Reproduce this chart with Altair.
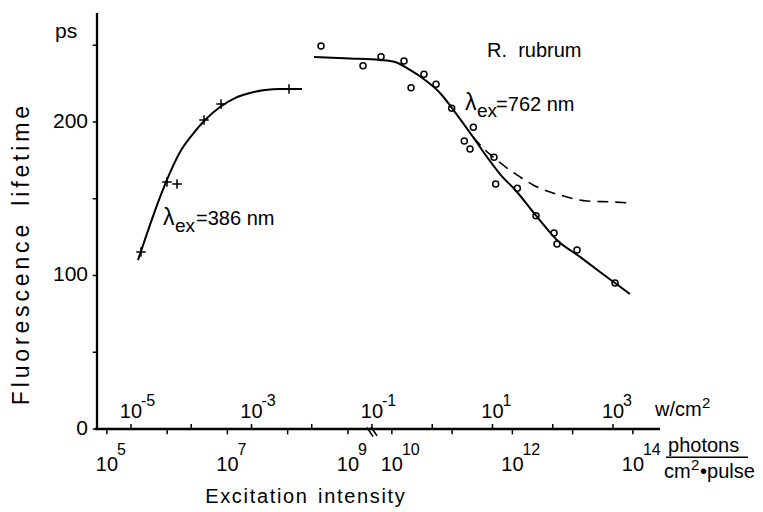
import altair as alt
import pandas as pd

# x: log10 of excitation intensity in W/cm^2 (top scale); y: fluorescence lifetime in ps
# 386 nm excitation (crosses)
uv_x = [-4.834, -4.402, -4.236, -3.788, -3.506, -2.377]
uv_y = [115.3, 160.9, 159.6, 201.3, 211.7, 221.5]
uv_fit_x = [-4.884, -4.684, -4.518, -4.352, -4.186, -3.987, -3.771, -3.523,
            -3.274, -3.025, -2.776, -2.527, -2.162]
uv_fit_y = [110.0, 133.0, 151.0, 167.0, 180.5, 191.5, 201.3, 209.8,
            215.6, 218.9, 220.8, 221.5, 221.5]

# 762 nm excitation (circles)
ir_x = [-1.846, -1.149, -0.850, -0.469, -0.352, -0.137, 0.063, 0.323, 0.682, 0.532,
        0.627, 1.025, 1.053, 1.412, 1.722, 2.021, 2.071, 2.403, 3.034]
ir_y = [249.5, 236.7, 242.5, 239.7, 222.3, 231.1, 224.6, 208.9, 196.5, 187.6,
        182.4, 177.0, 159.6, 156.8, 139.0, 127.7, 120.5, 116.6, 95.1]
ir_fit_x = [-1.962, -1.365, -0.867, -0.618, -0.369, -0.120, 0.129, 0.328, 0.511, 0.677,
            0.909, 1.125, 1.407, 1.673, 1.921, 2.071, 2.453, 2.785, 3.034, 3.282]
ir_fit_y = [242.3, 241.4, 240.4, 239.1, 233.9, 227.4, 218.9, 209.1, 199.3, 190.2,
            177.2, 166.1, 154.4, 141.4, 129.6, 123.1, 112.1, 102.3, 95.1, 87.9]
dash_x = [0.677, 0.876, 1.009, 1.241, 1.457, 1.673, 1.905, 2.121, 2.569, 3.000, 3.282]
dash_y = [190.2, 181.8, 177.2, 170.0, 164.2, 159.0, 155.0, 152.4, 148.5, 147.9, 147.2]

# axes
y_ticks = [0, 50, 100, 150, 200, 250]
y_labels = [0, 100, 200]
w_ticks = [-5, -4, -3, -2, -1, 0, 1, 2, 3]
w_labels = [-5, -3, -1, 1, 3]
photon_exp = [5, 6, 7, 8, 9, 10, 11, 12, 13, 14]
photon_pos = [-5.40, -4.40, -3.40, -2.40, -1.40, -0.67, 0.33, 1.33, 2.33, 3.33]
photon_labels = [5, 7, 9, 10, 12, 14]

X_DOM = [-5.564, 3.78]
Y_DOM = [0, 271]
FONT = "Liberation Sans"
NB = "\u00a0"

xs = alt.Scale(domain=X_DOM, nice=False, zero=False)
ys = alt.Scale(domain=Y_DOM, nice=False, zero=False)


def X(f="x"):
    return alt.X(f"{f}:Q", scale=xs, axis=None)


def Y(f="y"):
    return alt.Y(f"{f}:Q", scale=ys, axis=None)


def text_layer(xv, yv, txt, size, align="left", baseline="alphabetic", dx=0, dy=0, angle=0):
    df = pd.DataFrame({"x": xv, "y": yv, "t": txt})
    kw = dict(font=FONT, fontSize=size, align=align, baseline=baseline, color="black",
              dx=dx, dy=dy)
    if angle:
        kw["angle"] = angle
    return alt.Chart(df).mark_text(**kw).encode(x=X(), y=Y(), text="t:N")


def rules(xv, x2v, yv, y2v, width=1.5):
    df = pd.DataFrame({"x": xv, "x2": x2v, "y": yv, "y2": y2v})
    return (alt.Chart(df).mark_rule(color="black", strokeWidth=width)
            .encode(x=X(), x2="x2:Q", y=Y(), y2="y2:Q"))


def spaced(s, sep="\u200a"):
    return sep.join(list(s))


layers = []

# curves
layers.append(alt.Chart(pd.DataFrame({"x": uv_fit_x, "y": uv_fit_y}))
              .mark_line(color="black", strokeWidth=2, interpolate="monotone")
              .encode(x=X(), y=Y()))
layers.append(alt.Chart(pd.DataFrame({"x": ir_fit_x, "y": ir_fit_y}))
              .mark_line(color="black", strokeWidth=2, interpolate="monotone")
              .encode(x=X(), y=Y()))
layers.append(alt.Chart(pd.DataFrame({"x": dash_x, "y": dash_y}))
              .mark_line(color="black", strokeWidth=1.6, strokeDash=[11, 7], interpolate="monotone")
              .encode(x=X(), y=Y()))

# points
layers.append(alt.Chart(pd.DataFrame({"x": uv_x, "y": uv_y}))
              .mark_point(shape="M-1,0L1,0M0,-1L0,1", filled=False, color="black",
                          size=90, strokeWidth=1.5, opacity=1)
              .encode(x=X(), y=Y()))
layers.append(alt.Chart(pd.DataFrame({"x": ir_x, "y": ir_y}))
              .mark_point(shape="circle", filled=False, color="black",
                          size=36, strokeWidth=1.5, opacity=1)
              .encode(x=X(), y=Y()))

# y axis: line, ticks, labels
layers.append(rules([X_DOM[0]], [X_DOM[0]], [Y_DOM[0]], [Y_DOM[1]], width=2.3))
n = len(y_ticks)
layers.append(rules([X_DOM[0] - 0.07] * n, [X_DOM[0]] * n, y_ticks, y_ticks, width=1.5))
layers.append(text_layer([X_DOM[0]] * 3, y_labels, [str(v) for v in y_labels], 21,
                         align="right", baseline="middle", dx=-9))

# x axis line
layers.append(rules([X_DOM[0] - 0.03], [X_DOM[1]], [0], [0], width=2.3))
# top ticks (W/cm2)
n = len(w_ticks)
layers.append(rules(w_ticks, w_ticks, [0] * n, [3.3] * n))
# bottom ticks (photons)
n = len(photon_pos)
layers.append(rules(photon_pos, photon_pos, [0] * n, [-3.5] * n))
# axis break marks
layers.append(rules([-1.083, -1.016], [-0.983, -0.917], [1.0, 1.3], [-4.9, -4.4]))

# top tick labels
layers.append(text_layer(w_labels, [7.2] * 5, ["10"] * 5, 20, align="center"))
layers.append(text_layer(w_labels, [7.2] * 5, [str(e) for e in w_labels], 16, dx=10, dy=-12))
# bottom tick labels
lab_pos = [photon_pos[photon_exp.index(e)] for e in photon_labels]
layers.append(text_layer(lab_pos, [-27.4] * 6, ["10"] * 6, 20, align="center"))
layers.append(text_layer(lab_pos, [-27.4] * 6, [str(e) for e in photon_labels], 16, dx=10, dy=-16))

# units
layers.append(text_layer([3.697], [8.5], ["w/cm"], 20))
layers.append(text_layer([3.697], [8.5], ["2"], 15, dx=47, dy=-8))
layers.append(text_layer([3.913], [-15.0], ["photons"], 20))
layers.append(rules([3.88], [5.24], [-18.4], [-18.4], width=1.3))
layers.append(text_layer([3.847], [-32.2], ["cm"], 20))
layers.append(text_layer([3.847], [-32.2], ["2"], 15, dx=27, dy=-8))
layers.append(text_layer([3.847], [-32.2], ["\u2022pulse"], 20, dx=36))

# axis titles
layers.append(text_layer([-6.261], [255.0], ["ps"], 21))
layers.append(text_layer([-6.809], [113.0],
                         [spaced("Fluorescence", "\u200a\u200a") + NB * 3 + spaced("lifetime", "\u200a\u200a")], 23,
                         align="center", baseline="middle", angle=270))
layers.append(text_layer([-2.112], [-48.2], [spaced("Excitation") + NB * 2 + spaced("intensity")], 20,
                         align="center"))

# annotations
layers.append(text_layer([0.909], [242.3], ["R." + NB + " rubrum"], 20))
layers.append(text_layer([0.544], [207.8], ["\u03bb"], 23))
layers.append(text_layer([0.743], [203.3], ["ex"], 19))
layers.append(text_layer([1.060], [207.2], ["=762 nm"], 20))
layers.append(text_layer([-4.468], [132.9], ["\u03bb"], 23))
layers.append(text_layer([-4.269], [128.3], ["ex"], 19))
layers.append(text_layer([-3.920], [132.9], ["=386 nm"], 20))

chart = (alt.layer(*layers)
         .properties(width=563, height=416,
                     padding={"left": 97, "top": 13, "right": 103, "bottom": 83},
                     autosize=alt.AutoSizeParams(type="none"),
                     background="white")
         .configure_view(strokeOpacity=0))

chart.save("out.html", embed_options={"renderer": "svg", "actions": False})
